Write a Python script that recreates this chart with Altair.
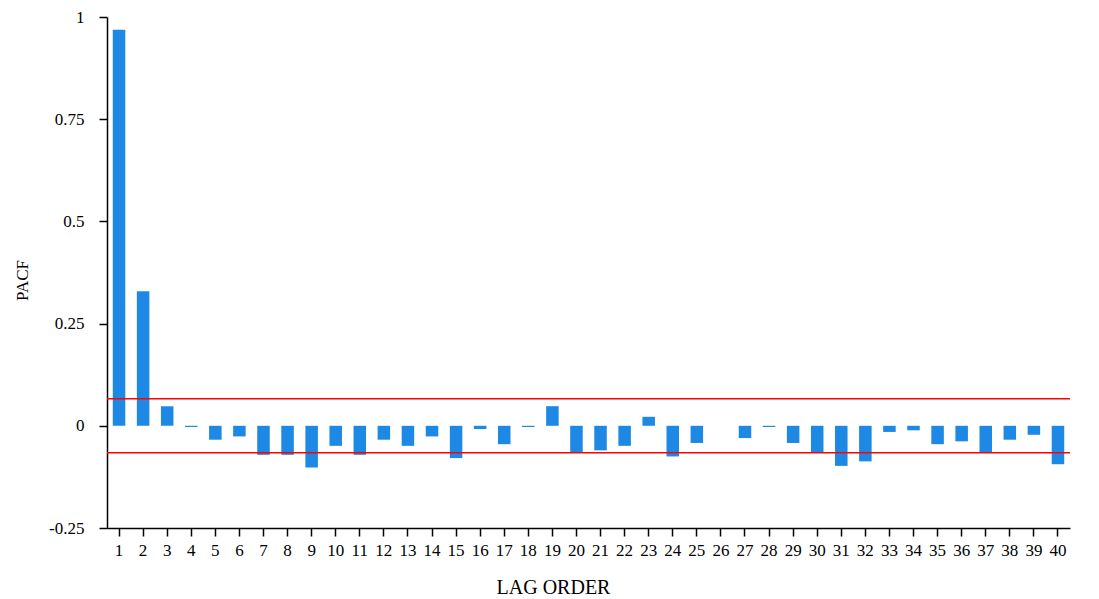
import altair as alt
import pandas as pd

lags = list(range(1, 41))
pacf = [0.969, 0.329, 0.048, -0.003, -0.034, -0.026, -0.071, -0.071, -0.102, -0.049,
        -0.071, -0.034, -0.049, -0.026, -0.079, -0.008, -0.045, -0.003, 0.048, -0.065,
        -0.060, -0.049, 0.022, -0.075, -0.042, 0.0, -0.030, -0.003, -0.042, -0.065,
        -0.098, -0.087, -0.015, -0.011, -0.045, -0.038, -0.065, -0.034, -0.022, -0.094]
conf = 0.066
y_ticks = [-0.25, 0, 0.25, 0.5, 0.75, 1]

df = pd.DataFrame({"lag": lags, "pacf": pacf})

FONT = "Liberation Serif"
H = 511

bars = alt.Chart(df).mark_bar(color="#1E88E5").encode(
    x=alt.X("lag:O", title="LAG ORDER",
            scale=alt.Scale(paddingInner=0.48, paddingOuter=0.24),
            axis=alt.Axis(labelAngle=0, labelFontSize=17, titleFontSize=20,
                          labelPadding=6, titleX=446, titleY=59,
                          titleBaseline="middle", titleAlign="center")),
    y=alt.Y("pacf:Q", title="PACF",
            scale=alt.Scale(domain=[-0.25, 1], nice=False, zero=False),
            axis=alt.Axis(values=y_ticks, labelExpr="'' + datum.value",
                          labelFontSize=17, titleFontSize=17,
                          labelPadding=15, grid=False,
                          titleX=-85, titleY=263, titleBaseline="middle",
                          titleAlign="center")),
    y2=alt.datum(0),
)

rules = alt.Chart(pd.DataFrame({"c": [conf, -conf]})).mark_rule(
    color="#FF0000", strokeWidth=1.5
).encode(y=alt.Y("c:Q"))

chart = alt.layer(bars, rules).properties(
    width=963, height=H,
    padding={"left": 99, "top": 9, "right": 20, "bottom": 71},
    autosize=alt.AutoSizeParams(type="none"),
).configure_axis(
    labelFont=FONT, titleFont=FONT, labelColor="black", titleColor="black",
    titleFontWeight="normal", domainColor="black", tickColor="black",
    domainWidth=1.5, tickWidth=1.5, tickSize=8,
).configure_view(stroke=None)

chart.save("out.html", embed_options={"renderer": "svg", "actions": False})
